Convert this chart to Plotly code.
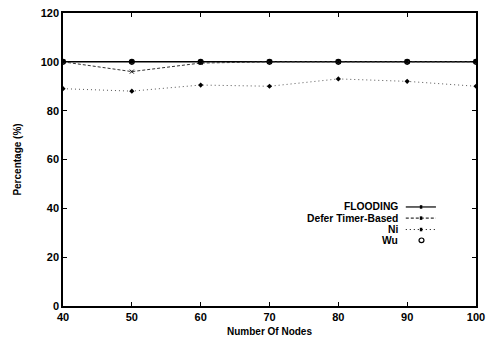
import plotly.graph_objects as go

nodes = [40, 50, 60, 70, 80, 90, 100]
flooding = [100, 100, 100, 100, 100, 100, 100]
defer_timer = [100, 96, 99.5, 100, 100, 100, 100]
ni = [89, 88, 90.5, 90, 93, 92, 90]
wu = [100, 100, 100, 100, 100, 100, 100]

series_names = ["FLOODING", "Defer Timer-Based", "Ni", "Wu"]
x_ticks = [40, 50, 60, 70, 80, 90, 100]
y_ticks = [0, 20, 40, 60, 80, 100, 120]

FONT = "Liberation Sans, Arial, sans-serif"

fig = go.Figure()
fig.add_trace(go.Scatter(x=nodes, y=flooding, mode="lines+markers", name=series_names[0],
                         line=dict(color="black", width=1.5),
                         marker=dict(symbol="square", size=4, color="black")))
fig.add_trace(go.Scatter(x=nodes, y=defer_timer, mode="lines+markers", name=series_names[1],
                         line=dict(color="#333", width=1, dash="3px,2px"),
                         marker=dict(symbol="x-thin", size=4, line=dict(color="black", width=1))))
fig.add_trace(go.Scatter(x=nodes, y=ni, mode="lines+markers", name=series_names[2],
                         line=dict(color="#555", width=1, dash="1px,3px"),
                         marker=dict(symbol="diamond", size=4, color="black")))
fig.add_trace(go.Scatter(x=nodes, y=wu, mode="markers", name=series_names[3],
                         marker=dict(symbol="circle-open", size=5, color="black", line=dict(width=1.1))))

# custom legend (text right-aligned, sample to the right) like the original
legend_rows_y = [0.338, 0.300, 0.261, 0.224]
dashes = ["solid", "3px,2px", "1px,3px", None]
text_x = 0.814
sx0, sx1 = 0.830, 0.903
for name, yy, d in zip(series_names, legend_rows_y, dashes):
    fig.add_annotation(xref="paper", yref="paper", x=text_x, y=yy, text=name, showarrow=False,
                       xanchor="right", yanchor="middle", borderpad=0,
                       font=dict(family=FONT, size=10.3, color="black", weight="bold"))
    if d is not None:
        fig.add_shape(type="line", xref="paper", yref="paper", x0=sx0, x1=sx1,
                      y0=yy, y1=yy, line=dict(color="black", width=1.2 if d == "solid" else 1, dash=d))
        fig.add_shape(type="rect", xref="paper", yref="paper", x0=0.864, x1=0.870,
                      y0=yy - 0.006, y1=yy + 0.006, line=dict(width=0), fillcolor="black")
    else:
        fig.add_shape(type="circle", xref="paper", yref="paper", x0=0.862, x1=0.874,
                      y0=yy - 0.008, y1=yy + 0.008, line=dict(color="black", width=1.2))

fig.update_layout(
    width=487, height=339,
    margin=dict(l=63, r=11, t=13, b=33),
    paper_bgcolor="white", plot_bgcolor="white",
    showlegend=False,
    font=dict(family=FONT, size=11, color="black", weight="bold"),
    xaxis=dict(range=[40, 100], tickvals=x_ticks, ticks="inside", ticklen=4, tickcolor="black",
               showline=True, linecolor="black", linewidth=1.5, mirror="ticks", showgrid=False,
               zeroline=False, automargin=False, ticklabeloverflow="allow",
               title=dict(text="Number Of Nodes", font=dict(size=10, weight="bold"), standoff=6),
               tickfont=dict(size=11, weight="bold")),
    yaxis=dict(range=[0, 120], tickvals=y_ticks, ticks="inside", ticklen=4, tickcolor="black",
               showline=True, linecolor="black", linewidth=1.5, mirror="ticks", showgrid=False,
               zeroline=False, automargin=False, ticklabeloverflow="allow",
               title=dict(text="Percentage (%)", font=dict(size=10, weight="bold"), standoff=17),
               tickfont=dict(size=11, weight="bold")),
)

# remove the default 8px page margin so the 487x339 figure fills the window
fig.write_html("out.html", config={"displayModeBar": False},
               post_script="document.body.style.margin='0';")
